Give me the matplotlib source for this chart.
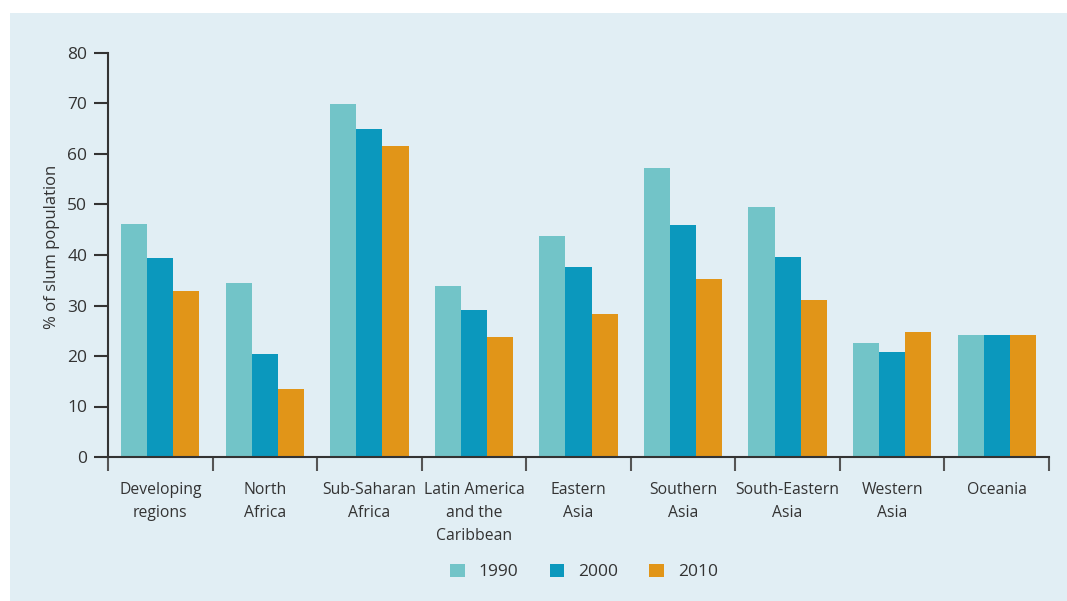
import matplotlib
matplotlib.use("Agg")
import matplotlib.pyplot as plt
from matplotlib.patches import Rectangle, Patch
import numpy as np

# --- 資料 ---
regions = ["Developing\nregions", "North\nAfrica", "Sub-Saharan\nAfrica",
           "Latin America\nand the\nCaribbean", "Eastern\nAsia", "Southern\nAsia",
           "South-Eastern\nAsia", "Western\nAsia", "Oceania"]
years = ["1990", "2000", "2010"]
v1990 = [46.1, 34.5, 69.9, 33.9, 43.8, 57.2, 49.5, 22.6, 24.1]
v2000 = [39.4, 20.4, 65.0, 29.1, 37.6, 45.9, 39.6, 20.8, 24.1]
v2010 = [32.9, 13.5, 61.6, 23.8, 28.3, 35.2, 31.1, 24.8, 24.1]

colors = ["#72c4c8", "#0b98bd", "#e19518"]
bg = "#e1eef4"
txt = "#333333"

plt.rcParams['font.family'] = ['Open Sans', 'DejaVu Sans']
plt.rcParams['text.color'] = txt

fig = plt.figure(figsize=(10.67, 6.01), dpi=100, facecolor="white")
# 淺藍底板
fig.patches.append(Rectangle((10 / 1067, 0), 1, 1 - 13 / 601, transform=fig.transFigure,
                             facecolor=bg, edgecolor="none", zorder=-10))

ax = fig.add_axes([108 / 1067, 1 - 457 / 601, (1049 - 108) / 1067, (457 - 53) / 601])
ax.set_facecolor("none")

x = np.arange(len(regions))
w = 0.25
for i, (vals, c) in enumerate(zip([v1990, v2000, v2010], colors)):
    ax.bar(x + (i - 1) * w, vals, width=w, color=c, linewidth=0)

ax.set_xlim(-0.5, len(regions) - 0.5)
ax.set_ylim(0, 80)
ax.set_yticks(range(0, 81, 10))
ax.tick_params(axis="y", length=10, width=1.5, color="#333333", labelsize=12.5,
               labelcolor=txt, pad=5)

# x 軸刻度在分隔位置
ax.set_xticks(np.arange(-0.5, len(regions), 1.0))
ax.set_xticklabels([])
ax.tick_params(axis="x", length=10, width=1.5, color="#555555")
ax.set_xticks(x, minor=True)
ax.set_xticklabels(regions, minor=True, fontsize=11.3, color=txt, linespacing=1.6, va="top")
ax.tick_params(axis="x", which="minor", length=0, pad=18)

for s in ["top", "right"]:
    ax.spines[s].set_visible(False)
ax.spines["left"].set_color("#333333")
ax.spines["left"].set_linewidth(1.5)
ax.spines["bottom"].set_color("#333333")
ax.spines["bottom"].set_linewidth(1.5)

fig.text(52 / 1067, 1 - 247 / 601, "% of slum population", rotation=90,
         ha="center", va="center", fontsize=12, color=txt)

handles = [Patch(facecolor=c, edgecolor="none") for c in colors]
fig.legend(handles, years, loc="center", bbox_to_anchor=(584 / 1067, 1 - 572 / 601),
           ncol=3, frameon=False, fontsize=12.5, handlelength=0.85, handleheight=0.85,
           handletextpad=0.8, columnspacing=1.8)

plt.savefig("out.png", dpi=100, facecolor="white")
